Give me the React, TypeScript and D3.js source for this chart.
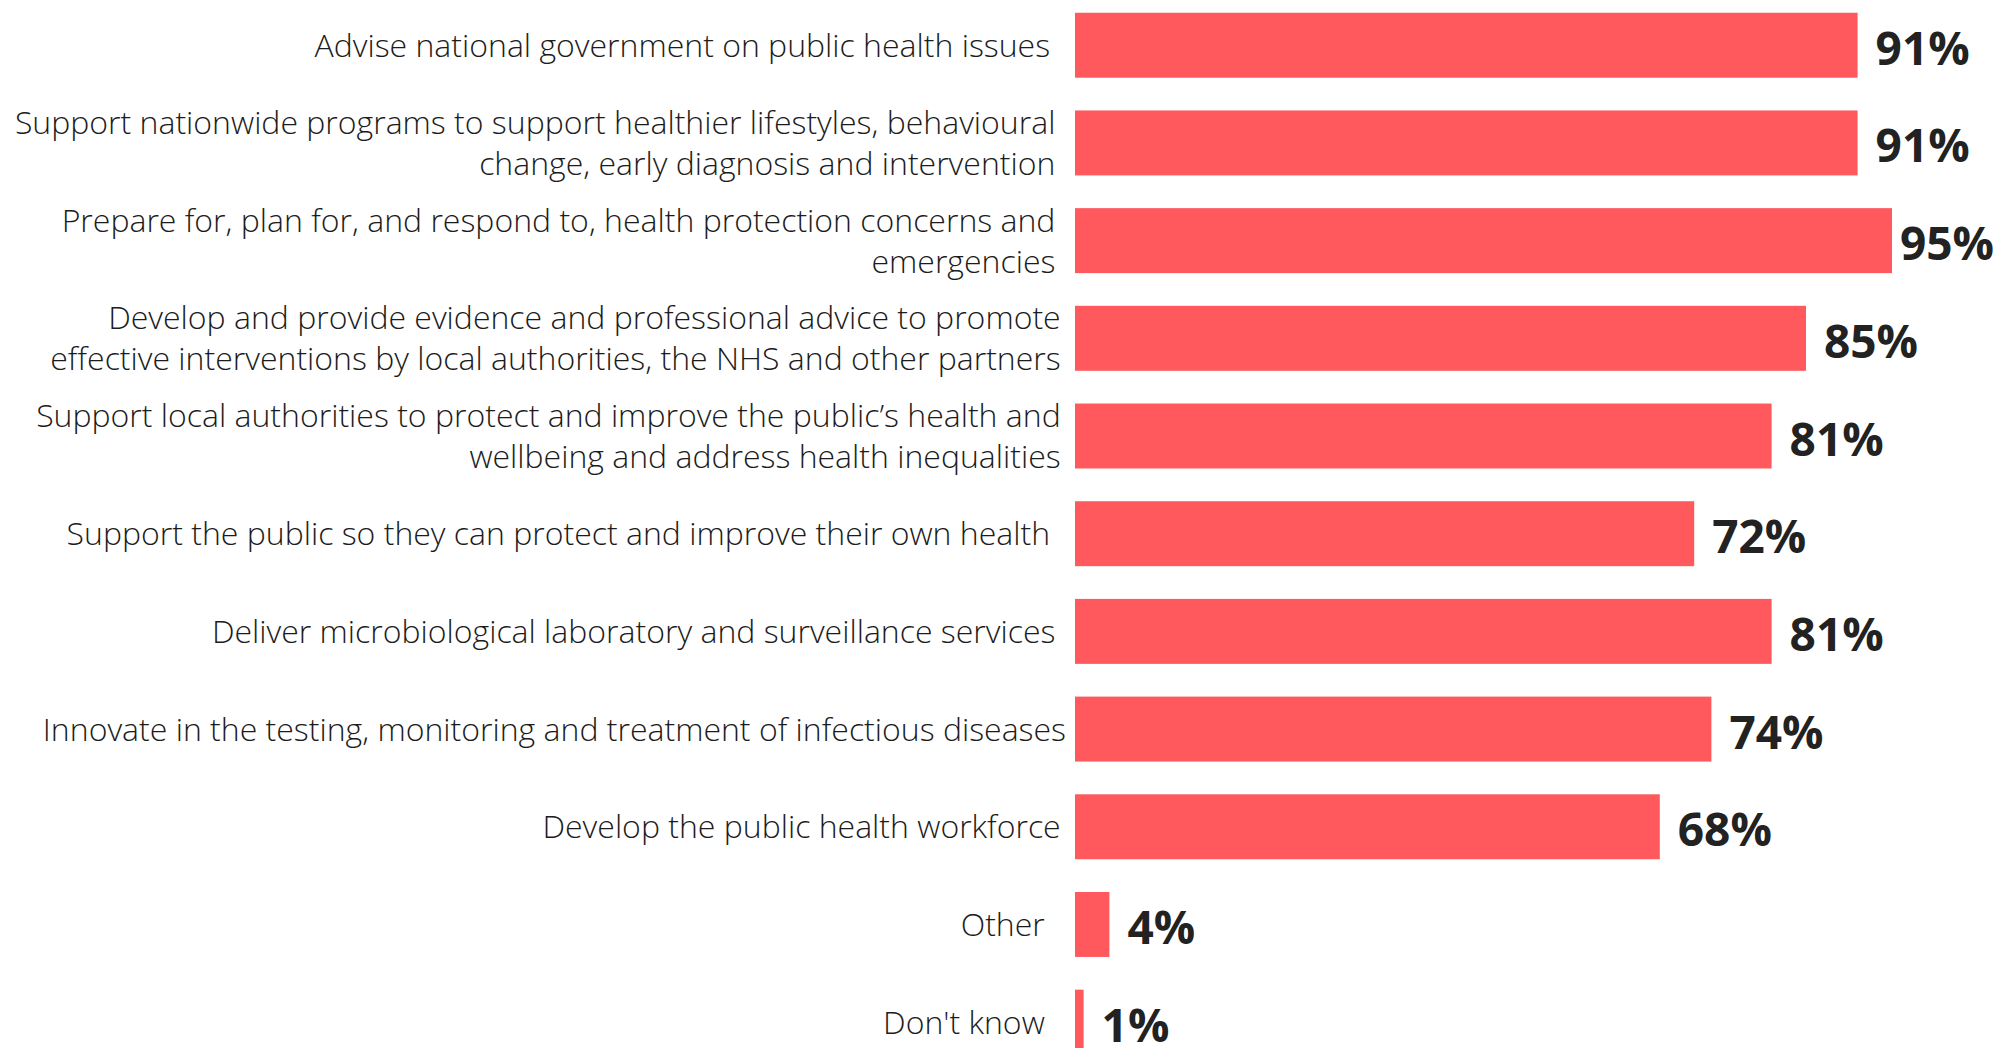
import React from "react";
import * as d3 from "d3";

// Survey responses: share of respondents selecting each function (%)
// (trailing thin spaces keep the hanging indent of each category label)
const categories: string[] = [
  "Advise national government on public health issues\u2009\u2009\u2009",
  "Support nationwide programs to support healthier lifestyles, behavioural\u2009\u2009\nchange, early diagnosis and intervention\u2009\u2009",
  "Prepare for, plan for, and respond to, health protection concerns and\u2009\u2009\nemergencies\u2009\u2009",
  "Develop and provide evidence and professional advice to promote\u2009\neffective interventions by local authorities, the NHS and other partners\u2009",
  "Support local authorities to protect and improve the public\u2019s health and\u2009\nwellbeing and address health inequalities\u2009",
  "Support the public so they can protect and improve their own health\u2009\u2009\u2009",
  "Deliver microbiological laboratory and surveillance services\u2009\u2009",
  "Innovate in the testing, monitoring and treatment of infectious diseases",
  "Develop the public health workforce\u2009",
  "Other\u2009\u2009\u2009\u2009",
  "Don't know\u2009\u2009\u2009\u2009",
];

const values: number[] = [91, 91, 95, 85, 81, 72, 81, 74, 68, 4, 1];

const W = 1999;
const H = 1048;

const BAR_COLOR = "#FF595E";
const LABEL_FONT = "'Open Sans', 'Noto Sans', sans-serif";
const VALUE_FONT_SIZE = 46;

// Width of a bold value label, used to keep it inside the drawing area
function measureValue(text: string): number {
  if (typeof document === "undefined") return text.length * 0.67 * VALUE_FONT_SIZE;
  const c = document.createElement("canvas").getContext("2d");
  if (!c) return text.length * 0.67 * VALUE_FONT_SIZE;
  c.font = `700 ${VALUE_FONT_SIZE}px 'Open Sans', 'Noto Sans', sans-serif`;
  return c.measureText(text).width;
}

export default function App() {
  const x = d3.scaleLinear().domain([0, 100]).range([1075, 1935]);
  const y = d3
    .scaleBand<string>()
    .domain(categories)
    .range([-3.6, 1071])
    .paddingInner(0.335)
    .paddingOuter(0.1675);

  const lineGap = 41;
  const labelRight = 1066;
  const valueLimit = 1994;

  return (
    <div style={{ position: "absolute", left: 0, top: 0, width: W, height: H, overflow: "hidden", background: "#fff" }}>
      <svg width={W} height={H} xmlSpace="preserve" style={{ display: "block" }}>
        <rect x={0} y={0} width={W} height={H} fill="#ffffff" />
        {categories.map((cat, i) => {
          const top = y(cat) as number;
          const cy = top + y.bandwidth() / 2;
          const lines = cat.split("\n");
          const v = values[i];
          const valueText = `${v}%`;
          const vw = measureValue(valueText);
          const vx = Math.min(x(v) + 18, valueLimit - vw);
          return (
            <g key={i}>
              <rect
                x={x(0)}
                y={top}
                width={x(v) - x(0)}
                height={y.bandwidth()}
                fill={BAR_COLOR}
              />
              <text
                textAnchor="end"
                fontFamily={LABEL_FONT}
                fontWeight={300}
                fontSize={32}
                fill="#1c1c1c"
                style={{ whiteSpace: "pre" }}
              >
                {lines.map((ln, j) => (
                  <tspan
                    key={j}
                    x={labelRight}
                    y={cy + 11.5 + (j - (lines.length - 1) / 2) * lineGap}
                  >
                    {ln}
                  </tspan>
                ))}
              </text>
              <text
                x={vx}
                y={cy + 19.5}
                fontFamily={LABEL_FONT}
                fontWeight={700}
                fontSize={VALUE_FONT_SIZE}
                fill="#222222"
              >
                {valueText}
              </text>
            </g>
          );
        })}
      </svg>
    </div>
  );
}
